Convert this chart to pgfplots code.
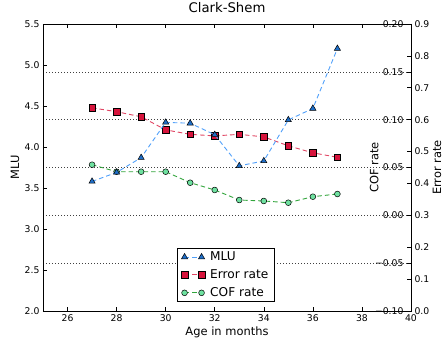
\documentclass[border=0pt]{standalone}
\usepackage{fontspec}
\setmainfont{DejaVu Sans}
\usepackage{pgfplots}
\pgfplotsset{compat=1.18}

\definecolor{mlufill}{RGB}{30,110,200}
\definecolor{mluline}{RGB}{80,160,250}
\definecolor{errfill}{RGB}{215,20,60}
\definecolor{errline}{RGB}{225,70,100}
\definecolor{coffill}{RGB}{110,225,160}
\definecolor{cofline}{RGB}{50,165,60}

\pgfplotsset{
  base/.style={
    scale only axis, width=368bp, height=287bp, at={(0,0)}, anchor=south west,
    xmin=25, xmax=40,
    tick align=inside, major tick length=4bp,
    tick style={black, line width=0.6bp},
    axis line style={line width=0.9bp},
    /pgf/number format/assume math mode=true,
    tick label style={font=\fontsize{9.3}{10}\selectfont},
    legend image code/.code={\draw[##1] plot coordinates {(0bp,0bp) (17bp,0bp)};},
  },
  mlustyle/.style={color=mluline, dash pattern=on 4.5bp off 3bp, line width=0.9bp,
    mark=triangle*, mark size=3.6bp, mark options={solid, fill=mlufill, draw=black, line width=0.5bp}},
  errstyle/.style={color=errline, dash pattern=on 4.5bp off 3bp, line width=0.9bp,
    mark=square*, mark size=3.2bp, mark options={solid, fill=errfill, draw=black, line width=0.5bp}},
  cofstyle/.style={color=cofline, dash pattern=on 4.5bp off 3bp, line width=0.9bp,
    mark=*, mark size=2.9bp, mark options={solid, fill=coffill, draw=black, line width=0.5bp}},
}

\begin{document}
\begin{tikzpicture}
% COF axis with grid
\begin{axis}[base,
  axis x line=none, axis y line*=right,
  ymin=-0.10, ymax=0.20,
  ytick={-0.10,-0.05,0,0.05,0.10,0.15,0.20},
  yticklabels={−0.10,−0.05,0.00,0.05,0.10,0.15,0.20},
  yticklabel style={anchor=east, xshift=-4bp},
  ymajorgrids, grid style={black!75, line width=0.6bp, dash pattern=on 1bp off 2bp},
  ylabel={COF rate},
  every axis y label/.style={at={(axis description cs:0.9,0.5)}, rotate=90, anchor=center,
    font=\fontsize{11.5}{13}\selectfont},
]
\addplot[cofstyle] coordinates {
(27,0.0529) (28,0.0456) (29,0.0456) (30,0.0456) (31,0.0341) (32,0.0265)
(33,0.0160) (34,0.0150) (35,0.0132) (36,0.0195) (37,0.0223)};
\end{axis}
% Error rate axis
\begin{axis}[base,
  axis x line=none, axis y line*=right,
  ymin=0, ymax=0.9,
  ytick={0,0.1,0.2,0.3,0.4,0.5,0.6,0.7,0.8,0.9},
  yticklabel style={/pgf/number format/.cd, fixed, fixed zerofill, precision=1},
  ylabel={Error rate},
  every axis y label/.style={at={(axis description cs:1.0705,0.5)}, rotate=90, anchor=center,
    font=\fontsize{11.5}{13}\selectfont},
]
\addplot[errstyle] coordinates {
(27,0.637) (28,0.625) (29,0.609) (30,0.568) (31,0.554) (32,0.549)
(33,0.554) (34,0.546) (35,0.518) (36,0.496) (37,0.482)};
\end{axis}
% MLU axis
\begin{axis}[base,
  ymin=2, ymax=5.5,
  xtick={26,28,30,32,34,36,38,40},
  ytick={2,2.5,3,3.5,4,4.5,5,5.5},
  yticklabel style={/pgf/number format/.cd, fixed, fixed zerofill, precision=1},
  xtick pos=both, ytick pos=left,
  title={Clark-Shem},
  title style={font=\fontsize{13.3}{15}\selectfont, at={(axis description cs:0.5,1.035)}, anchor=center},
  xlabel={Age in months},
  every axis x label/.style={at={(axis description cs:0.5,-0.073)}, anchor=center,
    font=\fontsize{11.5}{13}\selectfont},
  ylabel={MLU},
  every axis y label/.style={at={(axis description cs:-0.076,0.5)}, rotate=90, anchor=center,
    font=\fontsize{11.5}{13}\selectfont},
  legend style={at={(0.364,0.2195)}, anchor=north west, draw=black, line width=0.8bp,
    font=\fontsize{12.2}{14}\selectfont, fill=white, row sep=3.5bp,
    inner xsep=4bp, inner ysep=1.5bp,
    /tikz/every odd column/.append style={column sep=3.5bp}},
  legend cell align=left,
]
\addlegendimage{mlustyle}
\addlegendentry{MLU}
\addlegendimage{errstyle}
\addlegendentry{Error rate}
\addlegendimage{cofstyle}
\addlegendentry{COF rate}
\addplot[mlustyle, forget plot] coordinates {
(27,3.58) (28,3.69) (29,3.87) (30,4.30) (31,4.29) (32,4.15)
(33,3.77) (34,3.83) (35,4.33) (36,4.47) (37,5.20)};
\end{axis}
\pgfresetboundingbox
\path[use as bounding box] (-43bp,-30bp) rectangle (402bp,311bp);
\end{tikzpicture}
\end{document}
